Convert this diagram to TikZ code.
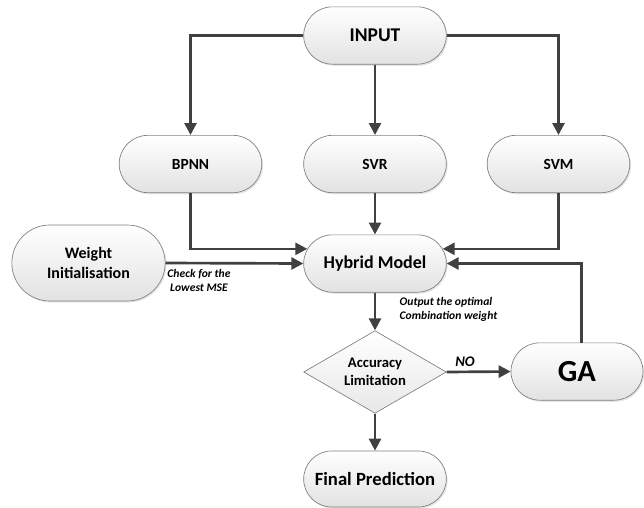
\documentclass[tikz,border=0pt]{standalone}
\usepackage{fontspec}
\setmainfont{Carlito}
\usepackage{tikz}
\usetikzlibrary{calc,shapes.misc,shapes.geometric,arrows.meta,shadows}
\definecolor{cLine}{HTML}{404040}
\definecolor{cBorder}{HTML}{7F7F7F}
\definecolor{cFill}{HTML}{E2E2E2}

\begin{document}
\begin{tikzpicture}[x=0.75pt,y=-0.75pt,
  pill/.style={rounded rectangle, draw=cBorder, line width=0.5pt,
    top color=white, bottom color=cFill,
    drop shadow={opacity=0.2, shadow xshift=1pt, shadow yshift=-1.2pt},
    inner sep=0pt, align=center, minimum width=107pt, minimum height=43pt},
  flow/.style={draw=cLine, line width=2pt, -{Triangle[length=9pt,width=9pt]}},
  note/.style={font=\bfseries\itshape\fontsize{8.7}{10.5}\selectfont}]
\useasboundingbox (0,0) rectangle (644,508);
\def\cx{375}
% top row
\node[pill, font=\bfseries\fontsize{14.6}{17}\selectfont] (input) at (\cx,35.5) {INPUT};
\node[pill, font=\bfseries\fontsize{11.6}{14}\selectfont] (bpnn) at (190.5,164) {BPNN};
\node[pill, font=\bfseries\fontsize{11.6}{14}\selectfont] (svr) at (\cx,164) {SVR};
\node[pill, font=\bfseries\fontsize{11.6}{14}\selectfont] (svm) at (558.5,164) {SVM};
% middle
\node[pill, font=\bfseries\fontsize{13.5}{16}\selectfont] (hybrid) at (\cx,263.5) {Hybrid Model};
\node[pill, minimum width=115pt, minimum height=57pt,
  font=\bfseries\fontsize{12}{14.5}\selectfont] (weight) at (88.5,263) {Weight\\Initialisation};
\node[diamond, draw=cBorder, line width=0.5pt, top color=white, bottom color=cFill!80,
  inner sep=0pt, shape aspect=1.7, minimum width=107pt, minimum height=62pt, align=center,
  font=\bfseries\fontsize{11}{13.5}\selectfont] (acc) at (\cx,372) {Accuracy\\Limitation};
\node[pill, minimum width=99pt, font=\bfseries\fontsize{23}{26}\selectfont] (ga) at (577,371.5) {GA};
\node[pill, minimum height=42pt, font=\bfseries\fontsize{14}{16}\selectfont] (final) at (\cx,479) {Final Prediction};
% entry points on the hybrid box
\coordinate (hinL) at ($(hybrid.west)+(3pt,11pt)$);
\coordinate (hinR) at ($(hybrid.east)+(-3pt,11pt)$);
% connectors
\draw[flow] (input.west) -| (bpnn.north);
\draw[flow] (input.south) -- (svr.north);
\draw[flow] (input.east) -| (svm.north);
\draw[flow] (bpnn.south) |- (hinL);
\draw[flow] (svr.south) -- (hybrid.north);
\draw[flow] (svm.south) |- (hinR);
\draw[flow] (weight.east) -- (hybrid.west);
\draw[flow] (hybrid.south) -- (acc.north);
\draw[flow] (acc.east) -- (ga.west);
\draw[flow] ([xshift=3.5pt]ga.north) |- (hybrid.east);
\draw[flow] (acc.south) -- (final.north);
% labels
\node[note, align=center] (chk) at (199,280) {Check for the\\Lowest MSE};
\node[note, align=left, anchor=west] (opt) at (395,309) {Output the optimal\\Combination weight};
\node[font=\bfseries\itshape\fontsize{11}{13}\selectfont] (no) at (465,362) {NO};
\end{tikzpicture}
\end{document}
